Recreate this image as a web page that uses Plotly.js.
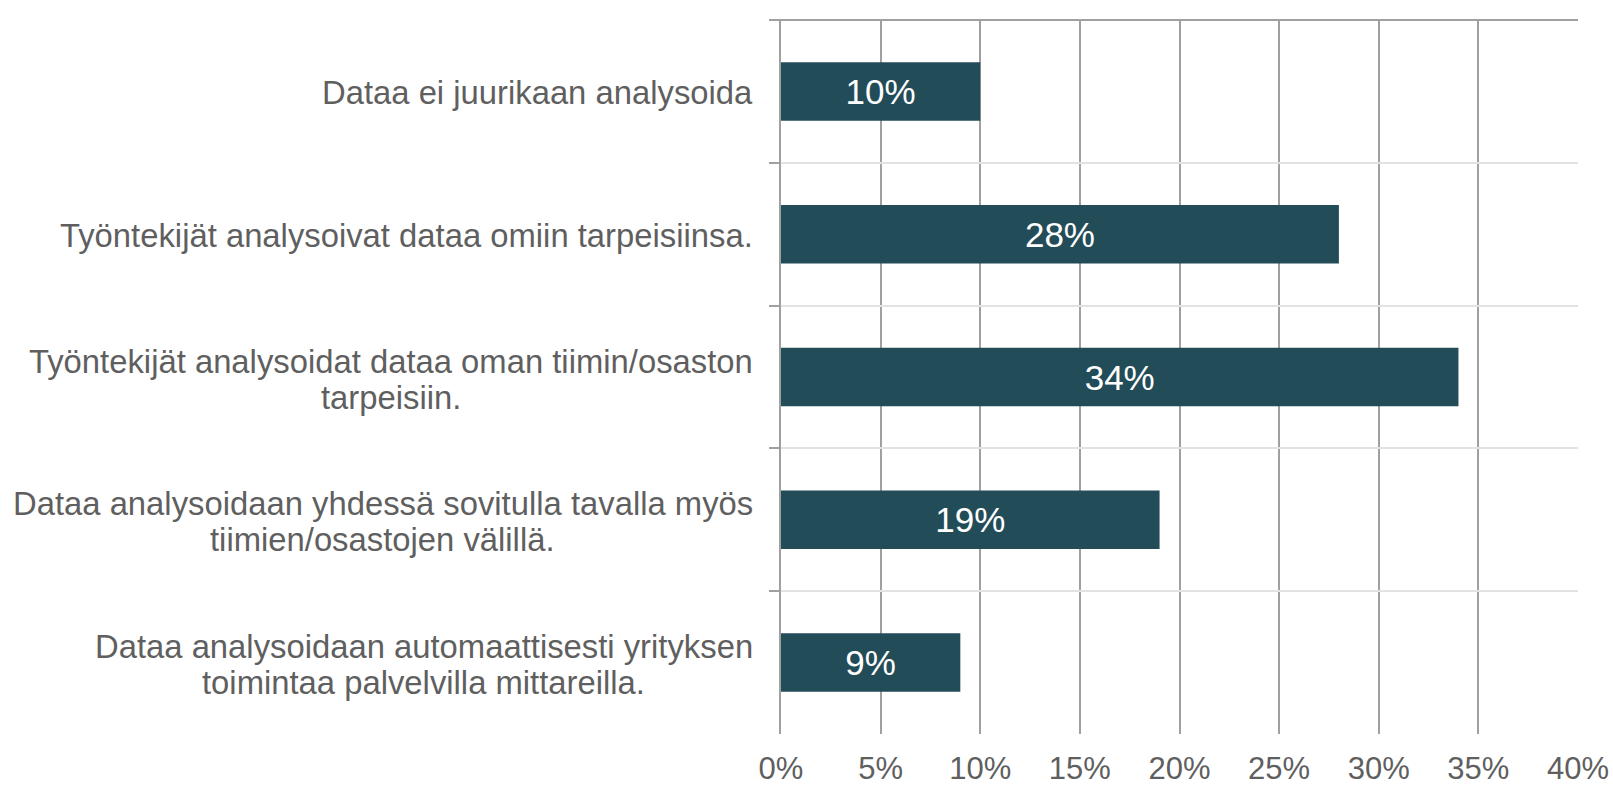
<!DOCTYPE html>
<html>
<head>
<meta charset="utf-8">
<script src="https://cdn.plot.ly/plotly-3.0.1.min.js"></script>
<style>
html, body { margin: 0; padding: 0; background: #fff; }
#chart { width: 1613px; height: 787px; }
</style>
</head>
<body>
<div id="chart"></div>
<script>
const categories = [
  "Dataa ei juurikaan analysoida",
  "Työntekijät analysoivat dataa omiin tarpeisiinsa.",
  "Työntekijät analysoidat dataa oman tiimin/osaston<br>tarpeisiin.",
  "Dataa analysoidaan yhdessä sovitulla tavalla myös<br>tiimien/osastojen välillä.",
  "Dataa analysoidaan automaattisesti yrityksen<br>toimintaa palvelvilla mittareilla."
];
const values = [10, 28, 34, 19, 9];
const tickValues = [0, 5, 10, 15, 20, 25, 30, 35, 40];
const tickLabels = ["0%", "5%", "10%", "15%", "20%", "25%", "30%", "35%", "40%"];

const FONT = '"Liberation Sans", Arial, sans-serif';
const LABEL_SIZE = 32.8;
const LINE_GAP = 36;
const GRID_DARK = '#a0a0a0';
const GRID_LIGHT = '#e2e2e2';
const TEXT = '#5f5f5f';

const trace = {
  type: 'bar',
  orientation: 'h',
  y: categories,
  x: values,
  marker: { color: '#234c59', line: { width: 0 } },
  text: values.map(v => v + '%'),
  textposition: 'inside',
  insidetextanchor: 'middle',
  constraintext: 'none',
  textfont: { family: FONT, size: 35, color: '#ffffff' },
  hoverinfo: 'skip'
};

// category labels: one annotation per text line, lines centred on each other
const ctx = document.createElement('canvas').getContext('2d');
ctx.font = LABEL_SIZE + 'px "Liberation Sans", Arial, sans-serif';
const annotations = [];
categories.forEach(c => {
  const lines = c.split('<br>');
  const widths = lines.map(l => ctx.measureText(l).width);
  const maxW = Math.max.apply(null, widths);
  const n = lines.length;
  lines.forEach((line, i) => {
    annotations.push({
      xref: 'paper', yref: 'y',
      x: 0, y: c,
      xanchor: 'right', yanchor: 'middle',
      xshift: -27 - (maxW - widths[i]) / 2,
      yshift: -(i - (n - 1) / 2) * LINE_GAP - (n > 1 ? 2 : 1),
      text: line,
      showarrow: false,
      borderpad: 0,
      font: { family: FONT, size: LABEL_SIZE, color: TEXT }
    });
  });
});

const layout = {
  width: 1613, height: 787,
  margin: { l: 781, r: 35, t: 20, b: 53 },
  paper_bgcolor: '#ffffff',
  plot_bgcolor: '#ffffff',
  showlegend: false,
  bargap: 0.59,
  font: { family: FONT, color: TEXT },
  xaxis: {
    range: [0, 40],
    tickvals: tickValues,
    ticktext: tickLabels,
    showgrid: true,
    gridcolor: GRID_DARK,
    gridwidth: 2,
    zeroline: false,
    showline: false,
    ticks: '',
    ticklabelstandoff: 13,
    tickfont: { family: FONT, size: 31, color: TEXT },
    fixedrange: true
  },
  yaxis: {
    type: 'category',
    autorange: 'reversed',
    tickson: 'boundaries',
    showgrid: true,
    gridcolor: GRID_LIGHT,
    gridwidth: 2,
    showline: true,
    linecolor: GRID_DARK,
    linewidth: 2,
    ticks: 'outside',
    ticklen: 10,
    tickwidth: 2,
    tickcolor: GRID_DARK,
    showticklabels: false,
    zeroline: false,
    fixedrange: true
  },
  shapes: [{
    type: 'line', xref: 'paper', yref: 'paper',
    x0: -0.0125, x1: 1, y0: 1, y1: 1,
    line: { color: GRID_DARK, width: 2 }
  }],
  annotations: annotations
};

Plotly.newPlot('chart', [trace], layout, { displayModeBar: false, staticPlot: true });
</script>
</body>
</html>
